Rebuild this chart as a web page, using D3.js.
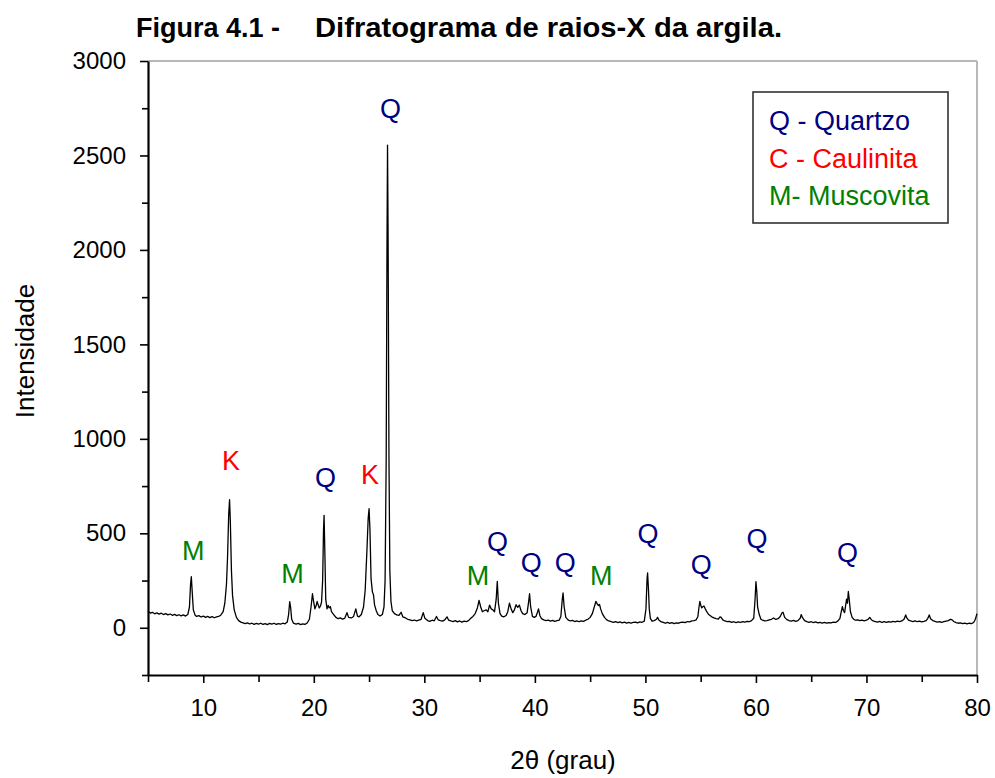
<!DOCTYPE html>
<html><head><meta charset="utf-8">
<script src="https://cdn.jsdelivr.net/npm/d3@7"></script>
<style>
body{margin:0;background:#fff}
text{font-family:"Liberation Sans",Arial,Helvetica,sans-serif}
</style>
</head><body><svg id="chart" width="995" height="778"></svg>
<script>
// ---- data ----
const twoTheta = [
5.0,5.2,5.4,5.6,5.8,6.0,6.2,6.4,6.6,6.8,7.0,7.2,7.4,7.6,7.8,8.0,8.2,8.4,8.6,8.75,8.85,8.92,9.0,9.1,9.25,9.4,9.6,9.8,
10.0,10.2,10.4,10.6,10.8,11.0,11.2,11.4,11.6,11.8,11.95,12.1,12.2,12.3,12.38,12.45,12.55,12.65,12.8,13.0,13.2,13.4,13.6,13.8,
14.0,14.2,14.4,14.6,14.8,15.0,15.2,15.4,15.6,15.8,16.0,16.2,16.4,16.6,16.8,17.0,17.2,17.4,17.6,17.72,17.82,17.9,18.0,18.15,18.4,18.6,18.8,
19.0,19.2,19.4,19.6,19.75,19.88,19.98,20.1,20.2,20.3,20.4,20.5,20.6,20.7,20.8,20.88,20.93,21.0,21.08,21.2,21.3,21.4,21.5,21.6,21.8,
22.0,22.2,22.4,22.6,22.8,23.0,23.15,23.4,23.6,23.8,23.95,24.1,24.3,24.5,24.65,24.8,24.92,25.0,25.08,25.18,25.3,25.4,25.5,25.65,25.8,
26.0,26.2,26.35,26.45,26.55,26.62,26.67,26.72,26.8,26.88,26.98,27.1,27.3,27.5,27.7,27.9,28.05,28.3,28.5,28.7,28.9,29.1,29.3,29.5,29.7,29.9,
30.05,30.3,30.5,30.7,30.9,31.1,31.25,31.45,31.65,31.85,32.05,32.2,32.4,32.6,32.8,33.0,33.2,33.4,33.6,33.8,34.0,34.2,34.4,34.6,34.8,34.95,
35.1,35.25,35.4,35.6,35.75,35.9,36.05,36.2,36.35,36.5,36.6,36.7,36.85,37.0,37.2,37.4,37.55,37.7,37.85,38.0,38.15,38.3,38.45,38.6,38.75,38.9,
39.1,39.3,39.42,39.52,39.62,39.78,39.95,40.1,40.25,40.33,40.45,40.6,40.8,41.0,41.2,41.4,41.6,41.8,42.0,42.2,42.35,42.48,42.55,42.65,42.8,
43.0,43.2,43.4,43.6,43.8,44.0,44.2,44.4,44.6,44.8,45.0,45.2,45.4,45.52,45.65,45.75,45.85,45.95,46.1,46.3,46.5,46.7,46.9,
47.1,47.3,47.5,47.7,47.9,48.1,48.3,48.5,48.7,48.9,49.1,49.3,49.5,49.7,49.9,50.05,50.15,50.2,50.28,50.35,50.45,50.6,50.8,
51.0,51.1,51.2,51.4,51.6,51.8,52.0,52.2,52.4,52.6,52.8,53.0,53.2,53.4,53.6,53.8,54.0,54.2,54.4,54.6,54.75,54.85,54.93,
55.0,55.1,55.2,55.3,55.42,55.55,55.7,55.85,56.0,56.2,56.4,56.6,56.75,56.85,57.0,57.2,57.4,57.6,57.8,58.0,58.2,58.4,58.6,58.8,
59.0,59.2,59.4,59.6,59.8,59.92,60.0,60.08,60.15,60.3,60.45,60.6,60.8,61.0,61.2,61.4,61.6,61.8,62.0,62.2,62.35,62.45,62.6,62.8,
63.0,63.2,63.4,63.6,63.8,64.0,64.1,64.2,64.4,64.6,64.8,65.0,65.2,65.4,65.6,65.8,66.0,66.2,66.4,66.6,66.8,67.0,67.2,67.4,67.6,67.72,67.82,67.92,
68.02,68.12,68.2,68.28,68.36,68.44,68.55,68.7,68.85,69.0,69.2,69.4,69.6,69.8,70.0,70.15,70.3,70.45,70.6,70.8,71.0,71.2,71.4,71.6,71.8,
72.0,72.2,72.4,72.6,72.8,73.0,73.2,73.4,73.55,73.65,73.8,74.0,74.2,74.4,74.6,74.8,75.0,75.2,75.4,75.55,75.68,75.8,76.0,76.2,76.4,76.6,76.8,
77.0,77.2,77.4,77.6,77.75,77.9,78.1,78.3,78.5,78.7,78.9,79.1,79.3,79.5,79.7,79.85,80.0
];
const intensity = [
88,78,82,74,79,72,77,70,75,68,73,66,71,64,69,63,68,62,70,110,230,270,190,95,68,60,64,57,
62,55,60,54,59,53,58,60,68,85,130,230,380,600,678,560,300,170,95,55,38,30,26,22,
26,20,24,18,23,19,24,18,22,17,23,19,24,18,22,19,24,21,30,70,138,110,45,25,19,23,17,
21,18,25,45,110,180,140,100,115,140,120,105,115,135,250,520,595,400,150,100,118,105,112,85,70,
55,48,52,46,50,80,55,52,60,100,62,58,70,110,200,400,580,630,520,260,190,175,120,90,70,
62,70,110,250,900,2000,2555,2100,900,300,140,90,75,68,65,82,58,52,45,42,38,41,36,40,44,80,
50,38,34,40,37,60,42,38,35,42,58,40,36,33,38,31,36,30,35,33,38,50,60,75,105,145,
110,85,90,95,85,120,100,95,85,150,245,130,75,62,58,65,85,130,100,80,95,122,108,120,90,75,
70,80,130,180,110,60,55,60,85,100,65,48,42,38,41,35,39,34,38,40,60,150,184,110,55,
42,36,39,33,37,32,36,34,40,45,55,75,115,140,125,118,123,100,75,55,42,36,32,
29,33,27,31,26,30,25,29,24,28,30,26,31,29,35,100,260,290,200,100,50,35,38,
45,55,42,32,28,24,29,23,27,22,26,24,28,30,27,33,31,36,38,42,60,110,140,
120,105,112,115,100,85,72,65,58,52,48,46,58,55,42,36,32,34,29,32,27,31,28,33,
30,34,32,38,50,150,244,190,110,70,45,40,36,38,42,45,52,44,48,60,78,82,55,43,
38,35,39,34,38,50,70,55,38,33,29,32,27,31,26,29,25,28,24,27,26,30,28,35,50,85,112,90,
80,120,152,130,192,150,85,55,45,40,42,38,41,37,40,45,55,42,36,33,30,34,28,32,29,
33,30,34,31,35,32,36,45,68,52,40,36,33,37,32,35,31,34,38,50,68,48,38,34,30,33,29,
32,35,38,45,42,33,27,24,26,22,25,21,24,22,28,45,75
];
const xTicks = [10, 20, 30, 40, 50, 60, 70, 80];
const xMinorTicks = [5, 15, 25, 35, 45, 55, 65, 75];
const yTicks = [0, 500, 1000, 1500, 2000, 2500, 3000];
const yMinorTicks = [-250, 250, 750, 1250, 1750, 2250, 2750];

const peakText  = ["M", "K", "M", "Q", "K", "Q", "M", "Q", "Q", "Q", "M", "Q", "Q", "Q", "Q"];
const peakX     = [9.10, 12.51, 18.07, 21.06, 25.09, 26.94, 34.86, 36.62, 39.68, 42.75, 46.01, 50.24, 55.06, 60.10, 68.29];
const peakY     = [360, 837, 238, 745, 763, 2698, 228, 408, 297, 297, 228, 450, 286, 424, 350];

const legendLabels = ["Q - Quartzo", "C - Caulinita", "M- Muscovita"];
const legendKeys   = ["Q", "K", "M"];

const titleParts = ["Figura 4.1 -", "Difratograma de raios-X da argila."];
const xTitle = "2θ (grau)";
const yTitle = "Intensidade";

// ---- drawing ----
const W = 995, H = 778;
const margin = {left: 148, right: 18, top: 61, bottom: 103};
const colorOf = {Q: "#000080", K: "#ff0000", M: "#008000"};

const svg = d3.select("#chart");
svg.append("rect").attr("width", W).attr("height", H).attr("fill", "#fff");

const x = d3.scaleLinear().domain([5, 80]).range([margin.left, W - margin.right]);
const y = d3.scaleLinear().domain([-250, 3000]).range([H - margin.bottom, margin.top]);

// frame (top & right, grey)
svg.append("line").attr("x1", x(5)).attr("x2", x(80)).attr("y1", y(3000)).attr("y2", y(3000))
  .attr("stroke", "#b8b8b8").attr("stroke-width", 2);
svg.append("line").attr("x1", x(80)).attr("x2", x(80)).attr("y1", y(3000)).attr("y2", y(-250))
  .attr("stroke", "#b8b8b8").attr("stroke-width", 2);

// data line
const pts = twoTheta.map((t, i) => [t, intensity[i]]);
svg.append("path").datum(pts)
  .attr("fill", "none").attr("stroke", "#000").attr("stroke-width", 1.3)
  .attr("stroke-linejoin", "round")
  .attr("d", d3.line().x(d => x(d[0])).y(d => y(d[1])));

// axes
const fs = 24;
svg.append("g").attr("transform", `translate(0,${y(-250)})`)
  .call(d3.axisBottom(x).tickValues(xTicks).tickSize(8).tickSizeOuter(0).tickPadding(16).tickFormat(d3.format("d")));
svg.append("g").attr("transform", `translate(0,${y(-250)})`)
  .call(d3.axisBottom(x).tickValues(xMinorTicks).tickSize(7).tickSizeOuter(0).tickFormat(""))
  .select(".domain").remove();
svg.append("g").attr("transform", `translate(${x(5)},0)`)
  .call(d3.axisLeft(y).tickValues(yTicks).tickSize(8).tickSizeOuter(0).tickPadding(14).tickFormat(d3.format("d")));
svg.append("g").attr("transform", `translate(${x(5)},0)`)
  .call(d3.axisLeft(y).tickValues(yMinorTicks).tickSize(6).tickSizeOuter(0).tickFormat(""))
  .select(".domain").remove();

svg.selectAll(".domain").attr("stroke", "#000").attr("stroke-width", 2.2);
svg.selectAll(".tick line").attr("stroke", "#000").attr("stroke-width", 1.6);
svg.selectAll(".tick text").attr("font-size", fs).attr("fill", "#000")
  .attr("font-family", '"Liberation Sans",Arial,sans-serif');

// axis titles
svg.append("text").attr("x", 563).attr("y", 769).attr("text-anchor", "middle")
  .attr("font-size", 26).text(xTitle);
svg.append("text").attr("transform", `translate(34,351) rotate(-90)`).attr("text-anchor", "middle")
  .attr("font-size", 26).text(yTitle);

// title
const tt = svg.append("text").attr("y", 37).attr("font-size", 27).attr("font-weight", "bold");
tt.append("tspan").attr("x", 136).text(titleParts[0]);
tt.append("tspan").attr("x", 315).attr("textLength", 467).attr("lengthAdjust", "spacingAndGlyphs").text(titleParts[1]);

// peak labels
svg.selectAll(".peak").data(peakText).enter().append("text")
  .attr("class", "peak")
  .attr("x", (d, i) => x(peakX[i])).attr("y", (d, i) => y(peakY[i]))
  .attr("text-anchor", "middle").attr("font-size", 27)
  .attr("fill", d => colorOf[d]).text(d => d);

// legend
const lg = svg.append("g");
lg.append("rect").attr("x", 753).attr("y", 92).attr("width", 195).attr("height", 131)
  .attr("fill", "#fff").attr("stroke", "#333").attr("stroke-width", 1.6);
lg.selectAll("text").data(legendLabels).enter().append("text")
  .attr("x", 769).attr("y", (d, i) => 130 + i * 37.5)
  .attr("font-size", 27).attr("fill", (d, i) => colorOf[legendKeys[i]])
  .style("white-space", "pre").text(d => d);
</script>
</body></html>
